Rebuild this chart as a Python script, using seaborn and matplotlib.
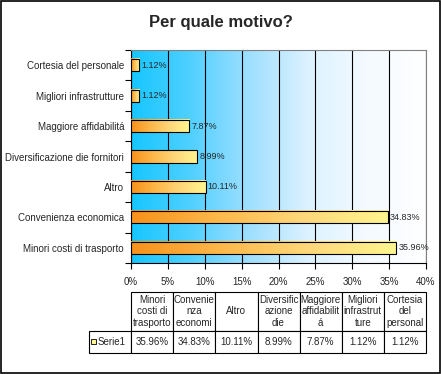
import numpy as np
import pandas as pd
import matplotlib
matplotlib.use("Agg")
import matplotlib.pyplot as plt
from matplotlib.colors import LinearSegmentedColormap
from matplotlib.patches import Rectangle
import seaborn as sns

# data
categories = ['Cortesia del personale', 'Migliori infrastrutture', 'Maggiore affidabilitá',
              'Diversificazione die fornitori', 'Altro', 'Convenienza economica',
              'Minori costi di trasporto']
values = [1.12, 1.12, 7.87, 8.99, 10.11, 34.83, 35.96]
table_headers = ['Minori\ncosti di\ntrasporto', 'Convenie\nnza\neconomi', 'Altro',
                 'Diversific\nazione\ndie', 'Maggiore\naffidabilit\ná', 'Migliori\ninfrastrut\nture',
                 'Cortesia\ndel\npersonal']
series_name = 'Serie1'
x_ticks = [0, 5, 10, 15, 20, 25, 30, 35, 40]

sns.set_style("white")
plt.rcParams['font.family'] = ['Liberation Sans', 'DejaVu Sans']

df = pd.DataFrame({'motivo': categories, 'pct': values})

fig = plt.figure(figsize=(4.41, 3.74), dpi=100)
ax = fig.add_axes([131/441, 1-263/374, 295/441, 213/374])

sns.barplot(data=df, x='pct', y='motivo', orient='h', ax=ax, width=0.4,
            color='#ffd070', edgecolor='black', linewidth=0.8, zorder=3)

ax.set_xlim(0, 40)
ylim = ax.get_ylim()

# background gradient
bg_cmap = LinearSegmentedColormap.from_list('bg', ['#17c6ff', '#4fd0ff', '#9fdfff', '#dcf2ff', '#f4faff', '#ffffff'])
ax.imshow(np.linspace(0, 1, 256).reshape(1, -1), cmap=bg_cmap, aspect='auto',
          extent=[0, 40, ylim[0], ylim[1]], zorder=0)
ax.set_ylim(ylim)

# bar gradient
bar_cmap = LinearSegmentedColormap.from_list('bar', ['#f7921c', '#fdb84a', '#ffd77a', '#fff590'])
for p in ax.patches:
    x0, y0 = p.get_x(), p.get_y()
    w, h = p.get_width(), p.get_height()
    ax.imshow(np.linspace(0, 1, 64).reshape(1, -1), cmap=bar_cmap, aspect='auto',
              extent=[x0, x0 + w, y0, y0 + h], zorder=3.5)
    p.set_facecolor('none')
    p.set_zorder(4)
ax.set_ylim(ylim)

for p, v in zip(ax.patches, values):
    ax.text(p.get_x() + p.get_width() + 0.3, p.get_y() + p.get_height() / 2, f'{v:.2f}%',
            va='center', ha='left', fontsize=6.5, zorder=5)

ax.set_xticks(x_ticks)
ax.set_xticklabels([f'{t}%' for t in x_ticks], fontsize=7)
ax.tick_params(axis='x', length=4, width=0.8, color='black', direction='out', bottom=True, pad=6)
ax.tick_params(axis='y', which='major', length=0, labelsize=7, pad=5)
ax.set_yticks(np.arange(-0.5, len(categories), 1), minor=True)
ax.tick_params(axis='y', which='minor', length=4, width=0.8, color='black', left=True)
ax.grid(axis='x', color='black', linewidth=0.8, zorder=1)
ax.set_axisbelow(True)
ax.set_xlabel('')
ax.set_ylabel('')
for s in ['left', 'bottom']:
    ax.spines[s].set_color('black')
    ax.spines[s].set_linewidth(0.8)
for s in ['top', 'right']:
    ax.spines[s].set_color('#808080')
    ax.spines[s].set_linewidth(0.8)

fig.text(0.5, 1 - 22/374, 'Per quale motivo?', ha='center', va='center',
         fontsize=12, fontweight='bold')

# data table below the chart
cell_text = [[series_name] + [f'{v:.2f}%' for v in values[::-1]]]
header = [''] + table_headers
tab = ax.table(cellText=[header] + cell_text, cellLoc='center',
               bbox=[-42/295, -90/213, 337/295, 61/213])
tab.auto_set_font_size(False)
tab.set_fontsize(7)
for (r, c), cell in tab.get_celld().items():
    cell.set_edgecolor('black')
    cell.set_linewidth(0.8)
    if r == 0:
        cell.set_height(39/213)
    else:
        cell.set_height(22/213)
    if r == 0 and c == 0:
        cell.visible_edges = ''
    if r == 1 and c == 0:
        cell.get_text().set_ha('left')
        cell._loc = 'left'
        cell.PAD = 0.2
for (r, c), cell in tab.get_celld().items():
    cell.set_y(-90/213 + (22/213 if r == 0 else 0))
    cell.set_x(-42/295 + c * 42.1/295)
    cell.set_width(42.1/295)

ax.add_patch(Rectangle((-40/295, -81/213), 5/295, 5/213, transform=ax.transAxes,
                       facecolor='#fff590', edgecolor='black', linewidth=0.6, clip_on=False, zorder=10))

fig.patches.append(Rectangle((0.002, 0.003), 0.995, 0.994, transform=fig.transFigure,
                             fill=False, edgecolor='black', linewidth=1.2))

fig.savefig('out.png', dpi=100)
